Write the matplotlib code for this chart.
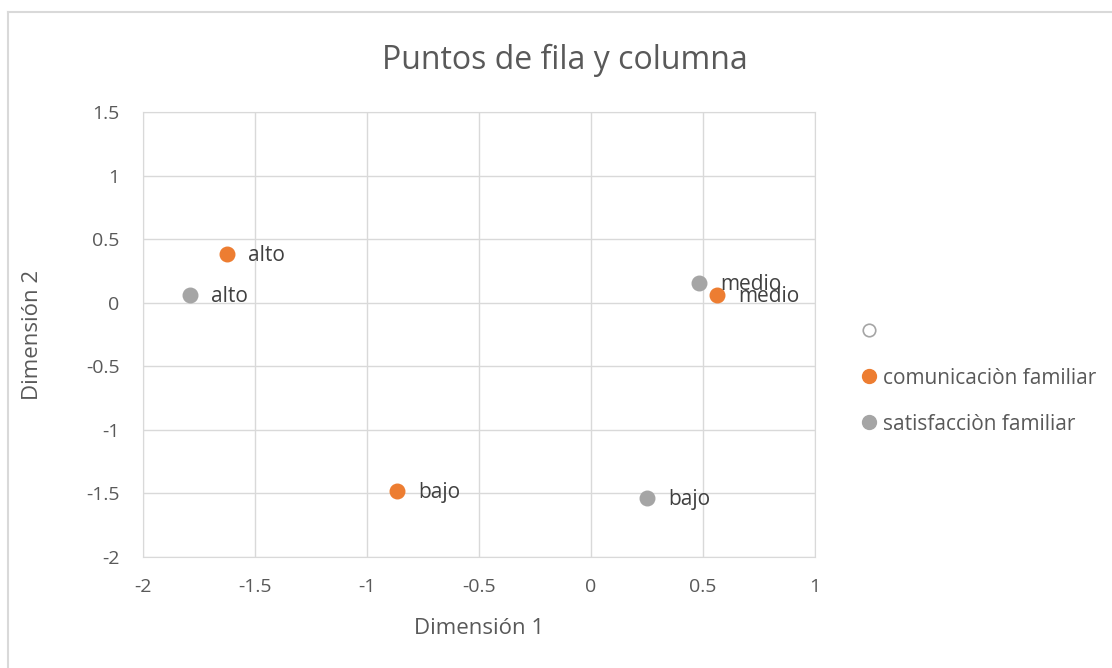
import matplotlib.pyplot as plt
from matplotlib.lines import Line2D

plt.rcParams['font.family'] = ['Open Sans', 'DejaVu Sans']

# data
com_x = [-1.625, 0.5625, -0.866]
com_y = [0.383, 0.06, -1.482]
com_lab = ['alto', 'medio', 'bajo']

sat_x = [-1.79, 0.482, 0.25]
sat_y = [0.06, 0.155, -1.537]
sat_lab = ['alto', 'medio', 'bajo']

series_names = ['comunicaciòn familiar', 'satisfacciòn familiar']
xticks = [-2, -1.5, -1, -0.5, 0, 0.5, 1]
yticks = [-2, -1.5, -1, -0.5, 0, 0.5, 1, 1.5]

orange = '#ED7D31'
gray = '#A5A5A5'
txt = '#595959'
grid = '#D9D9D9'

fig = plt.figure(figsize=(11.12, 6.68), dpi=100)
ax = fig.add_axes([143/1112, 1-557/668, 672/1112, 445/668])

ax.scatter(com_x, com_y, s=110, color=orange, zorder=3)
ax.scatter(sat_x, sat_y, s=110, color=gray, zorder=3)
for x, y, l in zip(com_x, com_y, com_lab):
    ax.annotate(l, (x, y), xytext=(15, -1), textcoords='offset points',
                va='center', ha='left', fontsize=15, color='#404040')
for x, y, l in zip(sat_x, sat_y, sat_lab):
    ax.annotate(l, (x, y), xytext=(15, -1), textcoords='offset points',
                va='center', ha='left', fontsize=15, color='#404040')

ax.set_xlim(-2, 1)
ax.set_ylim(-2, 1.5)
ax.set_xticks(xticks)
ax.set_yticks(yticks)
ax.set_xticklabels([f'{t:g}' for t in xticks])
ax.set_yticklabels([f'{t:g}' for t in yticks])
ax.grid(True, color=grid, lw=1)
ax.set_axisbelow(True)
for s in ax.spines.values():
    s.set_color(grid)
ax.tick_params(length=0, labelsize=14, colors=txt)
ax.tick_params(axis='y', pad=17)
ax.tick_params(axis='x', pad=15)

ax.set_xlabel('Dimensión 1', fontsize=16, color=txt)
ax.set_ylabel('Dimensión 2', fontsize=16, color=txt)
ax.xaxis.set_label_coords(0.5, (557-628)/445)
ax.yaxis.set_label_coords((33-143)/672, 0.5)
ax.xaxis.label.set_va('center')
ax.yaxis.label.set_va('center')
fig.text(565/1112, 1-60/668, 'Puntos de fila y columna', ha='center', va='center',
         fontsize=23, color=txt)

handles = [
    Line2D([], [], ls='none', marker='o', ms=9, mfc='white', mec=gray, mew=1.2),
    Line2D([], [], ls='none', marker='o', ms=10, color=orange),
    Line2D([], [], ls='none', marker='o', ms=10, color=gray),
]
fig.legend(handles, [''] + series_names, loc='center left',
           bbox_to_anchor=(837/1112, 1-378/668), frameon=False, fontsize=15,
           labelspacing=1.2, handletextpad=0.0, handlelength=1.3, labelcolor=txt)

# chart frame
fig.add_artist(Line2D([8/1112, 8/1112], [0, 1-12/668], color=grid, lw=1.5))
fig.add_artist(Line2D([8/1112, 1], [1-12/668, 1-12/668], color=grid, lw=1.5))

fig.savefig('out.png', dpi=100)
